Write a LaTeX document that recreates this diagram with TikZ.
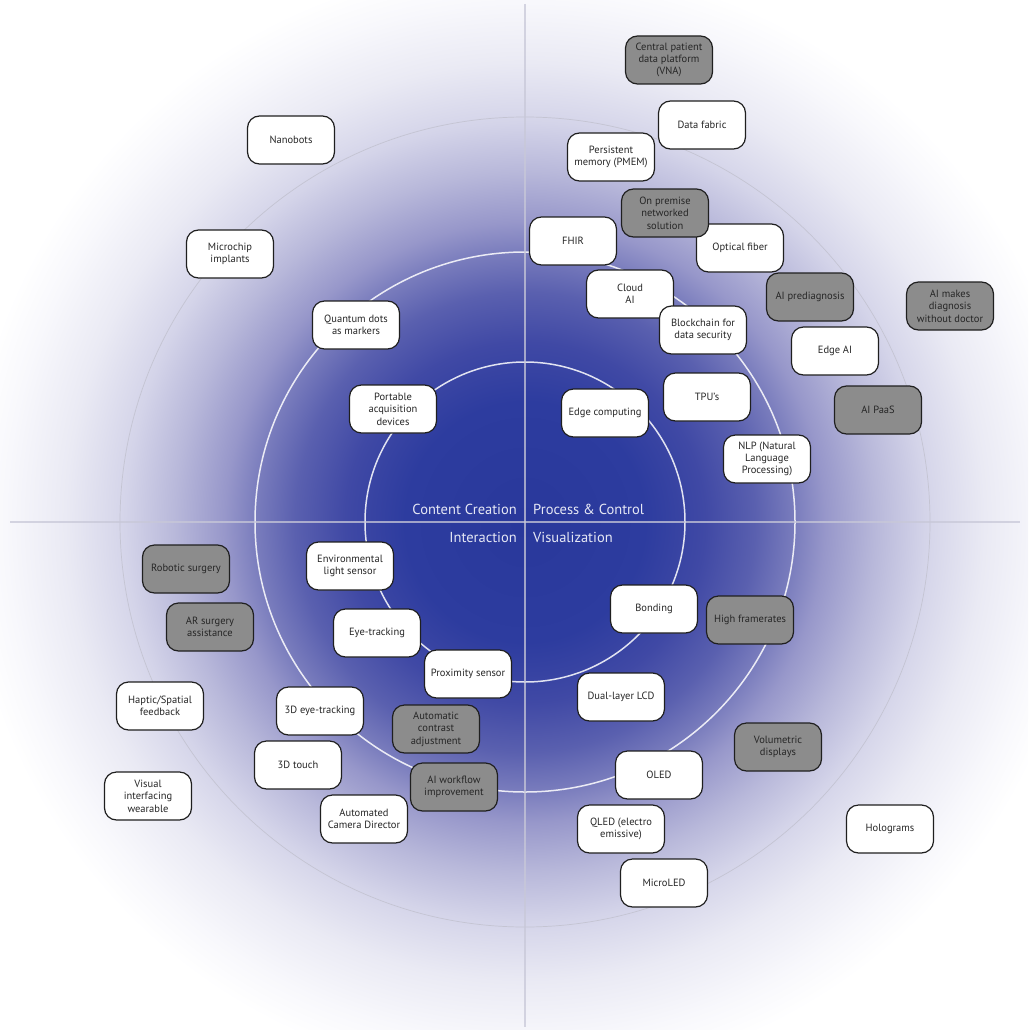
\documentclass[tikz,border=0pt]{standalone}
\usepackage{fontspec}
\setmainfont{PT Sans}
\definecolor{c0}{HTML}{29389B}
\definecolor{c1}{HTML}{2D3C9F}
\definecolor{c2}{HTML}{4049A5}
\definecolor{c3}{HTML}{5A60AF}
\definecolor{c4}{HTML}{7A7DBD}
\definecolor{c5}{HTML}{9797CA}
\definecolor{c6}{HTML}{B8B8DA}
\definecolor{c7}{HTML}{D4D4E9}
\definecolor{c8}{HTML}{EAEAF4}
\definecolor{c9}{HTML}{F8F8FC}
\definecolor{boxgrey}{HTML}{8C8C8C}
\definecolor{axiscol}{HTML}{C8C8D8}
\definecolor{quadcol}{HTML}{E6E8F5}
\definecolor{outercol}{HTML}{C4C4D2}
\pgfdeclareradialshading{bgshade}{\pgfpoint{0bp}{0bp}}{%
color(0bp)=(c0); color(4bp)=(c1); color(6bp)=(c2); color(7.67bp)=(c3);
color(9bp)=(c4); color(10bp)=(c5); color(11.67bp)=(c6); color(13.33bp)=(c7);
color(15.33bp)=(c8); color(17.33bp)=(c9); color(18.67bp)=(white); color(25bp)=(white); color(50bp)=(white)}
\tikzset{
  box/.style={draw=black!88, line width=1.2pt, rounded corners=12pt, fill=white,
    minimum width=87pt, minimum height=48pt, align=center, inner sep=2pt,
    font=\fontsize{10.5}{12.4}\selectfont, text=black!85},
  gbox/.style={box, fill=boxgrey},
  quad/.style={text=quadcol, font=\fontsize{14.5}{16}\selectfont, inner sep=0pt},
  ring/.style={draw=white, draw opacity=0.85, line width=1.5pt},
  axis/.style={draw=axiscol, draw opacity=0.75, line width=1.5pt}
}
\begin{document}
\begin{tikzpicture}[x=1pt,y=-1pt]
\useasboundingbox (0,0) rectangle (1028,1030);
\begin{scope}
  \clip (0,0) rectangle (1028,1030);
  \shade[shading=bgshade] (525,522) circle (750);
\end{scope}
% rings
\coordinate (ctr) at (525,522);
\draw[draw=outercol, line width=0.7pt] (ctr) circle (405);
\draw[ring] (ctr) circle (270);
\draw[ring] (ctr) circle (160);
% axes
\coordinate (axL) at (10,522);
\coordinate (axR) at (1020,522);
\coordinate (axT) at (525,4);
\coordinate (axB) at (525,1027);
\draw[axis] (axL) -- (axR);
\draw[axis] (axT) -- (axB);
% quadrant labels
\node[quad, anchor=base east] (qcc) at (517,514) {Content Creation};
\node[quad, anchor=base west] (qpc) at (533,514) {Process \& Control};
\node[quad, anchor=base east] (qin) at (517,542) {Interaction};
\node[quad, anchor=base west] (qvi) at (533,542) {Visualization};
% Process & Control
\node[gbox] (vna) at (669,60) {Central patient\\data platform\\(VNA)};
\node[box] (fabric) at (702,125) {Data fabric};
\node[box] (pmem) at (611,157) {Persistent\\memory (PMEM)};
\node[box] (fhir) at (573,241) {FHIR};
\node[box] (optic) at (740,248) {Optical fiber};
\node[gbox] (onprem) at (665,213) {On premise\\networked\\solution};
\node[box] (cloud) at (630,294) {Cloud\\AI};
\node[box] (block) at (703,330) {Blockchain for\\data security};
\node[gbox] (aipre) at (810,297) {AI prediagnosis};
\node[gbox] (aimake) at (950,306) {AI makes\\diagnosis\\without doctor};
\node[box] (edgeai) at (835,351) {Edge AI};
\node[gbox] (paas) at (878,410) {AI PaaS};
\node[box] (tpu) at (707,397) {TPU’s};
\node[box] (edgec) at (605,413) {Edge computing};
\node[box] (nlp) at (767,459) {NLP (Natural\\Language\\Processing)};
% Content Creation
\node[box] (nano) at (291,140) {Nanobots};
\node[box] (micro) at (230,254) {Microchip\\implants};
\node[box] (qdots) at (356,325) {Quantum dots\\as markers};
\node[box] (port) at (393,409) {Portable\\acquisition\\devices};
% Interaction
\node[gbox] (robot) at (186,569) {Robotic surgery};
\node[gbox] (arsurg) at (210,627) {AR surgery\\assistance};
\node[box] (haptic) at (160,706) {Haptic/Spatial\\feedback};
\node[box] (visual) at (148,796) {Visual\\interfacing\\wearable};
\node[box] (envl) at (350,566) {Environmental\\light sensor};
\node[box] (eyet) at (377,633) {Eye-tracking};
\node[box] (prox) at (468,674) {Proximity sensor};
\node[box] (eye3d) at (320,711) {3D eye-tracking};
\node[gbox] (contr) at (436,729) {Automatic\\contrast\\adjustment};
\node[box] (touch) at (298,765) {3D touch};
\node[gbox] (aiwf) at (454,787) {AI workflow\\improvement};
\node[box] (cam) at (364,819) {Automated\\Camera Director};
% Visualization
\node[box] (bond) at (654,609) {Bonding};
\node[gbox] (hfr) at (750,620) {High framerates};
\node[box] (lcd) at (621,697) {Dual-layer LCD};
\node[gbox] (vol) at (778,747) {Volumetric\\displays};
\node[box] (oled) at (659,775) {OLED};
\node[box] (qled) at (621,829) {QLED (electro\\emissive)};
\node[box] (mled) at (664,883) {MicroLED};
\node[box] (holo) at (890,829) {Holograms};
\end{tikzpicture}
\end{document}
